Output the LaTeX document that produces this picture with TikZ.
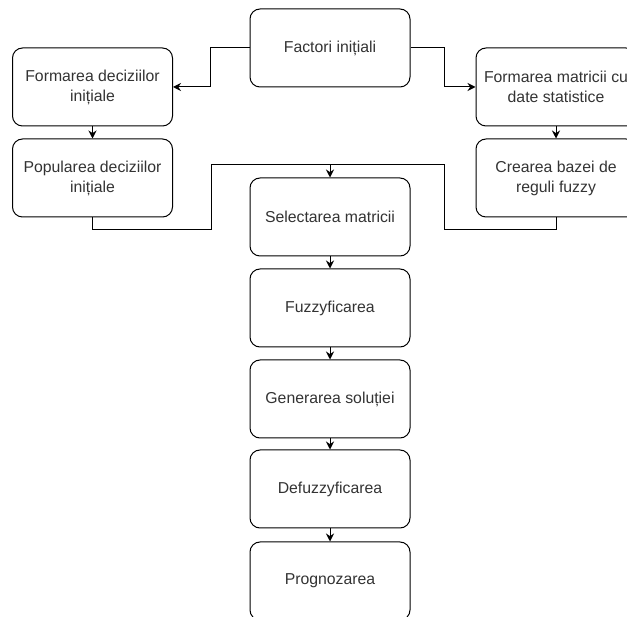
\documentclass[tikz,border=0pt]{standalone}
\usepackage{fontspec}
\setmainfont{Liberation Sans}
\usetikzlibrary{arrows.meta,calc}
\begin{document}
\begin{tikzpicture}[x=1pt,y=-1pt,
  box/.style={draw=black,line width=1pt,rounded corners=10pt,minimum width=160pt,minimum height=78pt,
    align=center,inner sep=2pt,font=\fontsize{15.8}{20}\selectfont,text=black!80},
  conn/.style={draw=black,line width=1pt},
  arr/.style={conn,-{Stealth[length=8pt,width=8pt]}}]
\useasboundingbox (0,0) rectangle (627,617);
\node[box] (fact) at (330,48) {Factori inițiali};
\node[box] (fd) at (92.5,87) {Formarea deciziilor\\inițiale};
\node[box] (pd) at (92.5,178) {Popularea deciziilor\\inițiale};
\node[box] (fm) at (556,87) {Formarea matricii cu\\date statistice};
\node[box] (cb) at (556,178) {Crearea bazei de\\reguli fuzzy};
\node[box] (sel) at (330,217) {Selectarea matricii};
\node[box] (fuz) at (330,308) {Fuzzyficarea};
\node[box] (gen) at (330,399) {Generarea soluției};
\node[box] (def) at (330,489) {Defuzzyficarea};
\node[box] (prog) at (330,581) {Prognozarea};
\coordinate (jn) at (330,165);
\coordinate (cL) at (211,165);
\coordinate (cR) at (444,165);
\draw[arr] (fact.west) -- ++(-39,0) |- (fd.east);
\draw[arr] (fact.east) -- ++(34,0) |- (fm.west);
\draw[arr] (fd.south) -- (pd.north);
\draw[arr] (fm.south) -- (cb.north);
\draw[conn] (pd.south) -- ++(0,12) -| (cL) -- (jn);
\draw[conn] (cb.south) -- ++(0,12) -| (cR) -- (jn);
\draw[arr] (jn) -- (sel.north);
\draw[arr] (sel.south) -- (fuz.north);
\draw[arr] (fuz.south) -- (gen.north);
\draw[arr] (gen.south) -- (def.north);
\draw[arr] (def.south) -- (prog.north);
\end{tikzpicture}
\end{document}
